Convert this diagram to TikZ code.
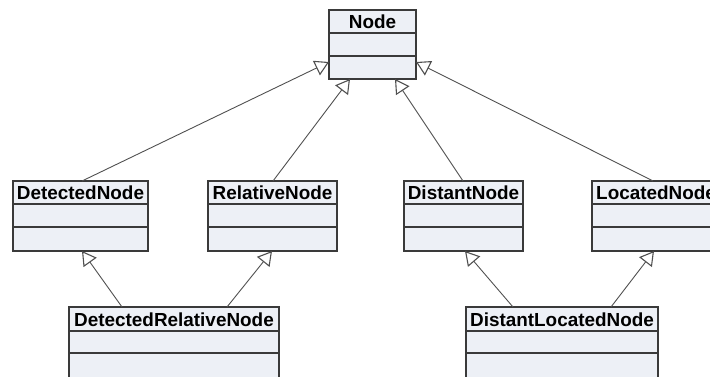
\documentclass[tikz,border=0pt]{standalone}
\usepackage{fontspec}
\setmainfont{Liberation Sans}
\usetikzlibrary{arrows.meta}
\definecolor{boxfill}{HTML}{EDF0F6}
\definecolor{boxline}{HTML}{3A3A3A}
\definecolor{conn}{HTML}{505050}
\tikzset{
  cls/.style={draw=boxline, fill=boxfill, line width=1.3pt, inner sep=0pt, outer sep=0pt, anchor=north west},
  clstitle/.style={font=\fontsize{18.9}{20}\selectfont\bfseries, inner sep=0pt, anchor=base},
  sep/.style={draw=boxline, line width=1.3pt},
  inh/.style={draw=conn, line width=0.9pt, -{Triangle[open, fill=white, length=14pt, width=16pt, line width=1.1pt]}}
}
\begin{document}
\begin{tikzpicture}[x=1pt,y=-1pt]
\useasboundingbox (0,0) rectangle (710,376);
\clip (0,0) rectangle (710,376);
% classes
\node[cls, minimum width=87pt, minimum height=69pt] (node) at (329,10) {};
\node[cls, minimum width=135pt, minimum height=70pt] (det) at (13,181) {};
\node[cls, minimum width=129pt, minimum height=70pt] (rel) at (208,181) {};
\node[cls, minimum width=119pt, minimum height=70pt] (dis) at (404,181) {};
\node[cls, minimum width=132pt, minimum height=70pt] (loc) at (592,181) {};
\node[cls, minimum width=210pt, minimum height=100pt] (drn) at (69,307) {};
\node[cls, minimum width=192pt, minimum height=100pt] (dln) at (466,307) {};
% compartments
\foreach \n/\a/\b in {node/23/46, det/23/46, rel/23/46, dis/23/46, loc/23/46, drn/24/46, dln/24/46}{
  \draw[sep] ([yshift=-\a pt]\n.north west) -- ([yshift=-\a pt]\n.north east);
  \draw[sep] ([yshift=-\b pt]\n.north west) -- ([yshift=-\b pt]\n.north east);
}
% titles
\node[clstitle] (tnode) at ([yshift=-18.5pt]node.north) {Node};
\node[clstitle] (tdet) at ([yshift=-18.5pt]det.north) {DetectedNode};
\node[clstitle] (trel) at ([yshift=-18.5pt]rel.north) {RelativeNode};
\node[clstitle] (tdis) at ([yshift=-18.5pt]dis.north) {DistantNode};
\node[clstitle, anchor=base west] (tloc) at ([xshift=4pt,yshift=-18.5pt]loc.north west) {LocatedNode};
\node[clstitle] (tdrn) at ([yshift=-19pt]drn.north) {DetectedRelativeNode};
\node[clstitle] (tdln) at ([yshift=-19pt]dln.north) {DistantLocatedNode};
% generalisations
\draw[inh] ([xshift=69pt]det.north west) -- ([yshift=-52pt]node.north west);
\draw[inh] ([xshift=65pt]rel.north west) -- ([xshift=21pt]node.south west);
\draw[inh] ([xshift=59pt]dis.north west) -- ([xshift=66pt]node.south west);
\draw[inh] ([xshift=61pt]loc.north west) -- ([yshift=-52pt]node.north east);
\draw[inh] ([xshift=53pt]drn.north west) -- ([xshift=69pt]det.south west);
\draw[inh] ([xshift=158pt]drn.north west) -- ([xshift=64pt]rel.south west);
\draw[inh] ([xshift=47pt]dln.north west) -- ([xshift=61pt]dis.south west);
\draw[inh] ([xshift=145pt]dln.north west) -- ([xshift=62pt]loc.south west);
\end{tikzpicture}
\end{document}
